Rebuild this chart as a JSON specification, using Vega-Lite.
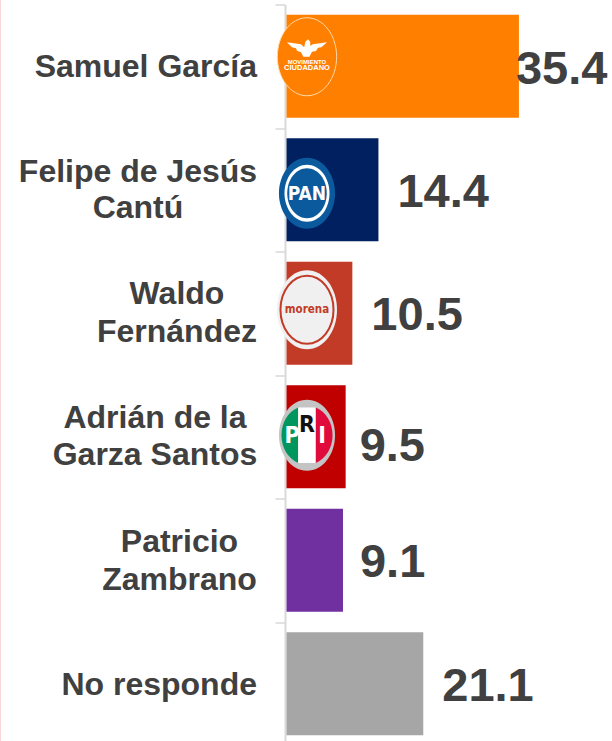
{
"$schema":"https://vega.github.io/schema/vega-lite/v6.json",
"width":329.9,"height":741,"autosize":"none",
"padding":{"left":282.1,"top":4.5,"right":0,"bottom":0},
"background":"white",
"config":{"view":{"stroke":null},"text":{"font":"Liberation Sans","fontWeight":"bold","color":"#404040"}},
"datasets":{"main":[
{"candidate":"Samuel García","pct":35.4},
{"candidate":"Felipe de Jesús Cantú","pct":14.4},
{"candidate":"Waldo Fernández","pct":10.5},
{"candidate":"Adrián de la Garza Santos","pct":9.5},
{"candidate":"Patricio Zambrano","pct":9.1},
{"candidate":"No responde","pct":21.1}
]},
"data":{"name":"main"},
"encoding":{
"y":{"field":"candidate","type":"nominal","sort":null,"title":null,
"scale":{"paddingInner":0,"paddingOuter":0},
"axis":{"labels":false,"tickBand":"extent","tickSize":10,"tickColor":"#D9D9D9","tickWidth":1.5,"domainColor":"#D9D9D9","domainWidth":2,"offset":-2.9,"grid":false}}
},
"layer":[
{"mark":{"type":"bar","clip":false,"height":{"band":0.835}},
"encoding":{"x":{"field":"pct","type":"quantitative","scale":{"domain":[0,49.31],"nice":false,"zero":true},"axis":null},"x2":{"datum":0.66},
"color":{"field":"candidate","type":"nominal","legend":null,"scale":{"domain":["Samuel García","Felipe de Jesús Cantú","Waldo Fernández","Adrián de la Garza Santos","Patricio Zambrano","No responde"],"range":["#FF8000","#002060","#C23B27","#C00000","#7030A0","#A6A6A6"]}}}},

{"transform":[{"filter":"datum.pct!=35.4 && datum.pct!=9.5 && datum.pct!=9.1"}],"mark":{"type":"text","align":"left","baseline":"middle","fontSize":47,"dx":19,"dy":3},"encoding":{"x":{"field":"pct","type":"quantitative"},"text":{"field":"pct","format":".1f"}}},
{"transform":[{"filter":"datum.pct==35.4"}],"mark":{"type":"text","align":"left","baseline":"middle","fontSize":47,"dx":-3,"dy":4},"encoding":{"x":{"field":"pct","type":"quantitative"},"text":{"field":"pct","format":".1f"}}},
{"transform":[{"filter":"datum.pct==9.5"}],"mark":{"type":"text","align":"left","baseline":"middle","fontSize":47,"dx":14,"dy":10},"encoding":{"x":{"field":"pct","type":"quantitative"},"text":{"field":"pct","format":".1f"}}},
{"transform":[{"filter":"datum.pct==9.1"}],"mark":{"type":"text","align":"left","baseline":"middle","fontSize":47,"dx":17,"dy":3},"encoding":{"x":{"field":"pct","type":"quantitative"},"text":{"field":"pct","format":".1f"}}},

{"transform":[{"filter":"datum.candidate=='Samuel García'"}],"mark":{"type":"text","align":"right","baseline":"middle","fontSize":32,"dy":1},"encoding":{"x":{"datum":-3.75},"text":{"value":"Samuel García"}}},
{"transform":[{"filter":"datum.candidate=='No responde'"}],"mark":{"type":"text","align":"right","baseline":"middle","fontSize":32,"dy":1},"encoding":{"x":{"datum":-3.75},"text":{"value":"No responde"}}},
{"transform":[{"filter":"datum.candidate=='Felipe de Jesús Cantú'"}],"mark":{"type":"text","align":"center","baseline":"middle","fontSize":32,"lineHeight":36,"dy":-18},"encoding":{"x":{"datum":-21.54},"text":{"value":["Felipe de Jesús","Cantú"]}}},
{"transform":[{"filter":"datum.candidate=='Waldo Fernández'"}],"mark":{"type":"text","align":"center","baseline":"middle","fontSize":32,"lineHeight":38,"dy":-19},"encoding":{"x":{"datum":-15.71},"text":{"value":["Waldo","Fernández"]}}},
{"transform":[{"filter":"datum.candidate=='Adrián de la Garza Santos'"}],"mark":{"type":"text","align":"center","baseline":"middle","fontSize":32,"lineHeight":37,"dy":-18.5},"encoding":{"x":{"datum":-19.0},"text":{"value":["Adrián de la","Garza Santos"]}}},
{"transform":[{"filter":"datum.candidate=='Patricio Zambrano'"}],"mark":{"type":"text","align":"center","baseline":"middle","fontSize":32,"lineHeight":38,"dy":-18},"encoding":{"x":{"datum":-15.34},"text":{"value":["Patricio","Zambrano"]}}},

{"transform":[{"filter":"datum.candidate=='Samuel García'"}],"mark":{"type":"point","filled":true,"fill":"#FF8000","stroke":"#FFD9A8","strokeWidth":1,"opacity":1,"yOffset":-9.5,"size":6084,"shape":"M -0.76 0 A 0.76 1 0 1 0 0.76 0 A 0.76 1 0 1 0 -0.76 0 Z"},"encoding":{"x":{"datum":3.72}}},
{"transform":[{"filter":"datum.candidate=='Samuel García'"}],"mark":{"type":"point","filled":true,"fill":"white","stroke":null,"opacity":1,"yOffset":-18,"size":1600,"shape":"M -1 -0.3 L -0.3 -0.2 L -0.14 -0.05 L -0.08 -0.32 L 0.05 -0.45 L 0.16 -0.32 L 0.16 -0.12 L 0.3 -0.2 L 1 -0.3 L 0.72 -0.05 L 0.55 -0.02 L 0.45 0.14 L 0.25 0.18 L 0.12 0.42 L -0.18 0.42 L -0.3 0.2 L -0.5 0.12 L -0.55 0 L -0.75 -0.05 Z"},"encoding":{"x":{"datum":3.72}}},
{"transform":[{"filter":"datum.candidate=='Samuel García'"}],"mark":{"type":"text","align":"center","baseline":"middle","fontSize":6,"color":"white","yOffset":-4.5},"encoding":{"x":{"datum":3.72},"text":{"value":"MOVIMIENTO"}}},
{"transform":[{"filter":"datum.candidate=='Samuel García'"}],"mark":{"type":"text","align":"center","baseline":"middle","fontSize":7.5,"color":"white","yOffset":2},"encoding":{"x":{"datum":3.72},"text":{"value":"CIUDADANO"}}},

{"transform":[{"filter":"datum.candidate=='Felipe de Jesús Cantú'"}],"mark":{"type":"point","filled":true,"fill":"#0B5A9E","stroke":null,"opacity":1,"yOffset":3.5,"size":5041,"shape":"M -0.79 0 A 0.79 1 0 1 0 0.79 0 A 0.79 1 0 1 0 -0.79 0 Z"},"encoding":{"x":{"datum":3.72}}},
{"transform":[{"filter":"datum.candidate=='Felipe de Jesús Cantú'"}],"mark":{"type":"point","filled":true,"fill":"white","stroke":null,"opacity":1,"yOffset":3.5,"size":3249,"shape":"M -0.79 0 A 0.79 1 0 1 0 0.79 0 A 0.79 1 0 1 0 -0.79 0 Z"},"encoding":{"x":{"datum":3.72}}},
{"transform":[{"filter":"datum.candidate=='Felipe de Jesús Cantú'"}],"mark":{"type":"point","filled":true,"fill":"#0B5A9E","stroke":null,"opacity":1,"yOffset":3.5,"size":2500,"shape":"M -0.79 0 A 0.79 1 0 1 0 0.79 0 A 0.79 1 0 1 0 -0.79 0 Z"},"encoding":{"x":{"datum":3.72}}},
{"transform":[{"filter":"datum.candidate=='Felipe de Jesús Cantú'"}],"mark":{"type":"text","align":"center","baseline":"middle","fontSize":19,"font":"DejaVu Sans Condensed, Liberation Sans","color":"white","yOffset":4.5},"encoding":{"x":{"datum":3.72},"text":{"value":"PAN"}}},

{"transform":[{"filter":"datum.candidate=='Waldo Fernández'"}],"mark":{"type":"point","filled":true,"fill":"#F0F0F0","stroke":null,"opacity":1,"yOffset":-3.5,"size":6241,"shape":"M -0.76 0 A 0.76 1 0 1 0 0.76 0 A 0.76 1 0 1 0 -0.76 0 Z"},"encoding":{"x":{"datum":3.72}}},
{"transform":[{"filter":"datum.candidate=='Waldo Fernández'"}],"mark":{"type":"point","filled":false,"stroke":"#C23B27","strokeWidth":2,"opacity":1,"yOffset":-3.5,"size":4624,"shape":"M -0.78 0 A 0.78 1 0 1 0 0.78 0 A 0.78 1 0 1 0 -0.78 0 Z"},"encoding":{"x":{"datum":3.72}}},
{"transform":[{"filter":"datum.candidate=='Waldo Fernández'"}],"mark":{"type":"text","align":"center","baseline":"middle","fontSize":11.5,"font":"DejaVu Sans Condensed, Liberation Sans","color":"#C23B27","yOffset":-3.5},"encoding":{"x":{"datum":3.72},"text":{"value":"morena"}}},

{"transform":[{"filter":"datum.candidate=='Adrián de la Garza Santos'"}],"mark":{"type":"point","filled":true,"fill":"#C4C4C4","stroke":null,"opacity":1,"yOffset":-1.5,"size":5041,"shape":"M -0.79 0 A 0.79 1 0 1 0 0.79 0 A 0.79 1 0 1 0 -0.79 0 Z"},"encoding":{"x":{"datum":3.72}}},
{"transform":[{"filter":"datum.candidate=='Adrián de la Garza Santos'"}],"mark":{"type":"point","filled":true,"fill":"#00965E","stroke":null,"opacity":1,"yOffset":-1.5,"size":3481,"shape":"M -0.3 -0.94 A 0.86 1 0 0 0 -0.3 0.94 Z"},"encoding":{"x":{"datum":3.72}}},
{"transform":[{"filter":"datum.candidate=='Adrián de la Garza Santos'"}],"mark":{"type":"point","filled":true,"fill":"white","stroke":null,"opacity":1,"yOffset":-1.5,"size":3481,"shape":"M -0.3 -0.94 L 0.3 -0.94 L 0.3 0.94 L -0.3 0.94 Z"},"encoding":{"x":{"datum":3.72}}},
{"transform":[{"filter":"datum.candidate=='Adrián de la Garza Santos'"}],"mark":{"type":"point","filled":true,"fill":"#E00A3C","stroke":null,"opacity":1,"yOffset":-1.5,"size":3481,"shape":"M 0.3 -0.94 A 0.86 1 0 0 1 0.3 0.94 Z"},"encoding":{"x":{"datum":3.72}}},
{"transform":[{"filter":"datum.candidate=='Adrián de la Garza Santos'"}],"mark":{"type":"text","align":"center","baseline":"middle","fontSize":23,"font":"DejaVu Sans Condensed, Liberation Sans","color":"white","dx":-15,"yOffset":-1},"encoding":{"x":{"datum":3.72},"text":{"value":"P"}}},
{"transform":[{"filter":"datum.candidate=='Adrián de la Garza Santos'"}],"mark":{"type":"text","align":"center","baseline":"middle","fontSize":23,"font":"DejaVu Sans Condensed, Liberation Sans","color":"#111111","yOffset":-11.5},"encoding":{"x":{"datum":3.72},"text":{"value":"R"}}},
{"transform":[{"filter":"datum.candidate=='Adrián de la Garza Santos'"}],"mark":{"type":"text","align":"center","baseline":"middle","fontSize":23,"font":"DejaVu Sans Condensed, Liberation Sans","color":"white","dx":15,"yOffset":-1},"encoding":{"x":{"datum":3.72},"text":{"value":"I"}}},

{"data":{"values":[{"edge":"page"}]},"mark":{"type":"rule","color":"#F8D4D4","strokeWidth":1,"clip":false},"encoding":{"x":{"datum":-42.1},"y":{"value":-5},"y2":{"value":741}}}
]
}
